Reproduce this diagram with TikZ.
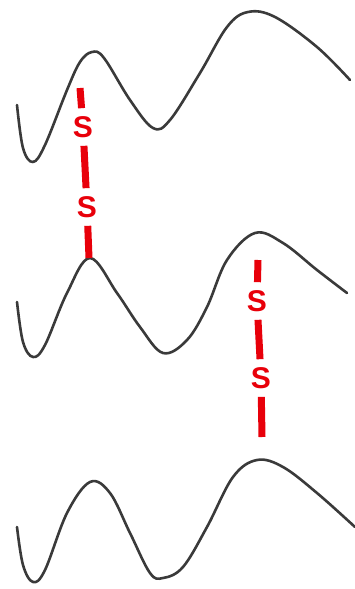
\documentclass[tikz,border=0pt]{standalone}
\usepackage{fontspec}
\setmainfont{Liberation Sans}
\definecolor{wavegray}{RGB}{58,58,58}
\definecolor{bondred}{RGB}{232,0,10}
\tikzset{
    wave/.style={line width=2.6pt, wavegray, line cap=round, line join=round},
    bond/.style={line width=7pt, bondred},
    sulfur/.style={inner sep=8pt, text=bondred, font=\fontsize{30}{30}\selectfont\bfseries}
}
\begin{document}
\begin{tikzpicture}[x=1pt,y=-1pt]
        \useasboundingbox (0,0) rectangle (355,589);
        % three chains
        \draw[wave] plot[smooth, tension=0.6] coordinates {(17,105) (23,148) (33,162) (45,145) (67,90) (80,62) (92,52) (104,58) (130,100) (153,128) (170,120) (200,73) (227,27) (248,12) (275,17) (317,47) (350,80)};
        \draw[wave] plot[smooth, tension=0.6] coordinates {(17,302) (23,342) (33,357) (45,345) (67,293) (90,258) (117,293) (140,327) (163,353) (187,340) (207,307) (227,260) (255,233) (283,243) (317,270) (347,293)};
        \draw[wave] plot[smooth, tension=0.6] coordinates {(17,527) (23,565) (33,582) (45,570) (67,513) (90,482) (110,493) (130,533) (150,573) (163,578) (183,567) (207,527) (233,477) (257,460) (283,467) (317,493) (355,527)};
        % left bridge
        \coordinate (ltop) at (80,88);
        \coordinate (lbot) at (89,258);
        \node[sulfur] (ls1) at (83,127) {S};
        \node[sulfur] (ls2) at (87,207) {S};
        \draw[bond] (ltop) -- (ls1);
        \draw[bond] (ls1) -- (ls2);
        \draw[bond] (ls2) -- (lbot);
        % right bridge
        \coordinate (rtop) at (258,260);
        \coordinate (rbot) at (262,437);
        \node[sulfur] (rs1) at (257,301) {S};
        \node[sulfur] (rs2) at (261,378) {S};
        \draw[bond] (rtop) -- (rs1);
        \draw[bond] (rs1) -- (rs2);
        \draw[bond] (rs2) -- (rbot);
\end{tikzpicture}
\end{document}
